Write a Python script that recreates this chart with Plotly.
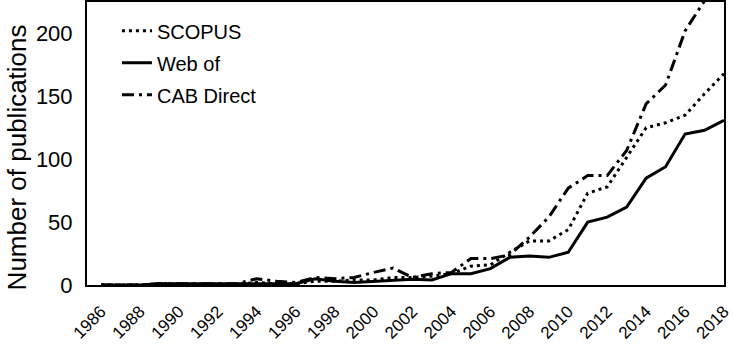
import plotly.graph_objects as go

years = list(range(1986, 2019))
scopus = [0, 0, 0, 1, 0.5, 0.5, 0.5, 0.5, 2, 1, 1, 3, 3, 4, 4, 6, 6, 7, 9,
          15, 16, 26, 35, 35, 44, 73, 78, 101, 125, 129, 135, 152, 168]
web_of = [0, 0, 0, 1, 1, 1, 1, 1, 1, 1, 1, 5, 3, 2, 3, 4, 4.5, 4, 9,
          9, 13, 22, 23, 22, 26, 50, 54, 62, 85, 94, 120, 123, 131]
cab_direct = [0, 0, 0, 1, 1, 0.5, 0.5, 1, 5, 3, 2, 6, 5, 6, 10, 13.5, 6, 9, 10,
              21, 21, 24, 38, 54, 77, 87, 87, 107, 144, 159, 202, 226, 255]
series_names = ["SCOPUS", "Web of", "CAB Direct"]
tick_years = list(range(1986, 2019, 2))
y_title = "Number of publications"

FONT = "Liberation Sans, Arial, sans-serif"

fig = go.Figure()
fig.add_trace(go.Scatter(x=years, y=scopus, mode="lines", name=series_names[0],
                         legendgroup="a",
                         line=dict(color="black", width=3, dash="3px,4px")))
fig.add_trace(go.Scatter(x=years, y=web_of, mode="lines", name=series_names[1],
                         legendgroup="b",
                         line=dict(color="black", width=3)))
fig.add_trace(go.Scatter(x=years, y=cab_direct, mode="lines", name=series_names[2],
                         legendgroup="c",
                         line=dict(color="black", width=3, dash="12px,5px,3px,5px")))

fig.update_layout(
    width=733, height=347,
    margin=dict(l=87, r=9, t=2, b=62),
    paper_bgcolor="white", plot_bgcolor="white",
    font=dict(family=FONT, color="black"),
    showlegend=True,
    legend=dict(x=0.047, y=0.967, xanchor="left", yanchor="top",
                font=dict(size=20, family=FONT), bgcolor="rgba(0,0,0,0)",
                tracegroupgap=3, itemwidth=30),
    annotations=[dict(text=y_title, textangle=-90, xref="paper", yref="paper",
                      x=-0.137, y=0.45, xanchor="left", yanchor="middle",
                      showarrow=False, font=dict(size=26, family=FONT))],
)
fig.update_xaxes(
    range=[1985.28, 2018.0], tickmode="array", tickvals=tick_years,
    ticktext=[str(y) for y in tick_years], tickangle=-45,
    tickfont=dict(size=17, family=FONT),
    showline=True, linecolor="black", linewidth=2, mirror=True,
    showgrid=False, zeroline=False, automargin=False,
    ticks="outside", ticklen=8, tickcolor="rgba(0,0,0,0)",
)
fig.update_yaxes(
    range=[0, 225], tickvals=[0, 50, 100, 150, 200],
    tickfont=dict(size=22, family=FONT),
    showline=True, linecolor="black", linewidth=2, mirror=True,
    showgrid=False, zeroline=False, automargin=False,
    ticks="outside", ticklen=8, tickcolor="rgba(0,0,0,0)",
)

fig.write_html("out.html", config={"displayModeBar": False},
               post_script="document.body.style.margin='0';")
